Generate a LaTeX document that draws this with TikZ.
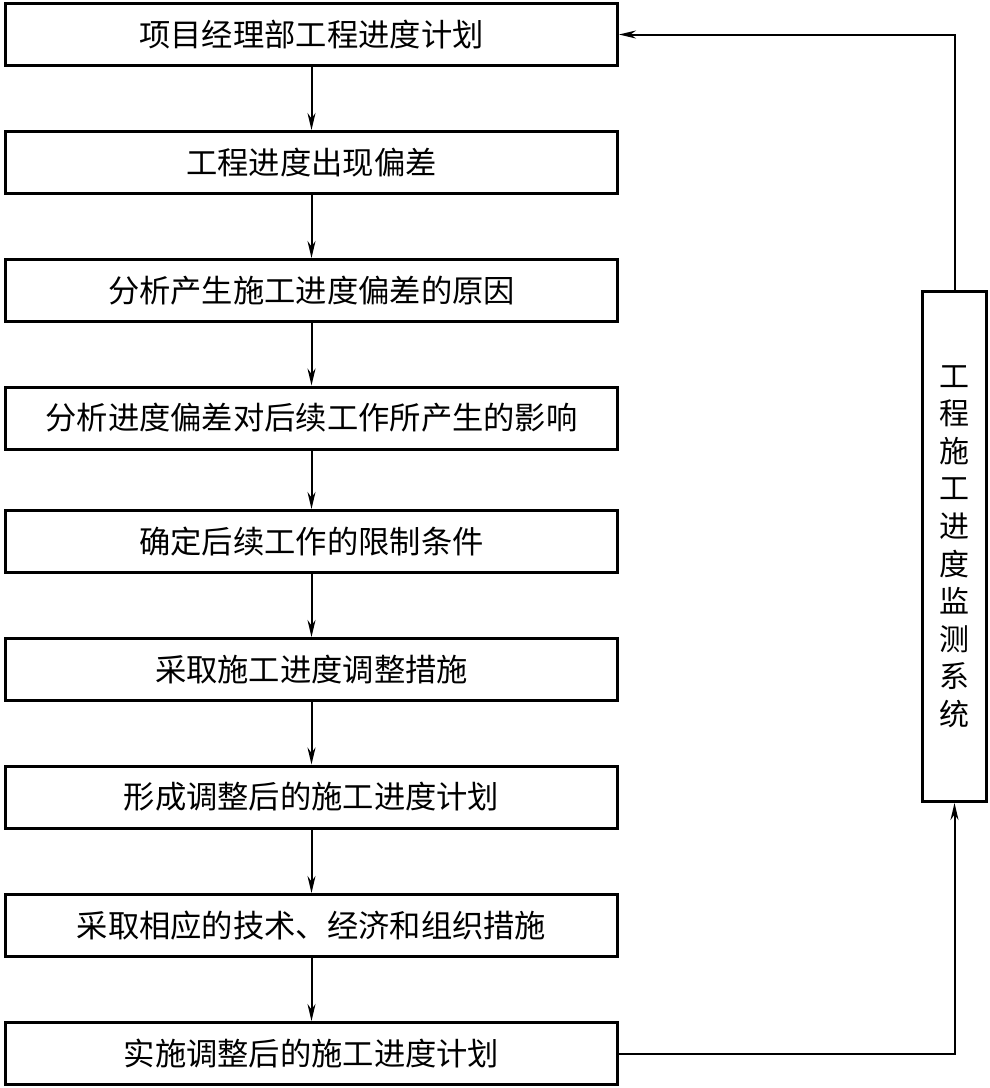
\documentclass[tikz,border=0pt]{standalone}
\usepackage{fontspec}
\setmainfont{Noto Sans CJK SC}
\usetikzlibrary{arrows.meta}
\tikzset{
  stepbox/.style={draw, line width=3pt, minimum width=612pt, minimum height=62pt, inner sep=0pt,
    font=\fontsize{31.3}{36}\selectfont},
  monbox/.style={draw, line width=3pt, minimum width=64pt, minimum height=510pt, inner sep=0pt, align=center,
    font=\fontsize{30}{37.6}\selectfont},
  conn/.style={line width=2pt, -{Stealth[length=17pt,width=8pt]}},
}
\begin{document}
\begin{tikzpicture}[x=1pt,y=-1pt]
\useasboundingbox (0,0) rectangle (989,1088);
\node[stepbox] (b1) at (311.5,34.5) {项目经理部工程进度计划};
\node[stepbox] (b2) at (311.5,162.5) {工程进度出现偏差};
\node[stepbox] (b3) at (311.5,290.5) {分析产生施工进度偏差的原因};
\node[stepbox] (b4) at (311.5,418) {分析进度偏差对后续工作所产生的影响};
\node[stepbox] (b5) at (311.5,541.5) {确定后续工作的限制条件};
\node[stepbox] (b6) at (311.5,669.5) {采取施工进度调整措施};
\node[stepbox] (b7) at (311.5,797) {形成调整后的施工进度计划};
\node[stepbox] (b8) at (311.5,925.5) {采取相应的技术、经济和组织措施};
\node[stepbox] (b9) at (311.5,1053.5) {实施调整后的施工进度计划};
\node[monbox] (mon) at (954.5,546.5) {工\\程\\施\\工\\进\\度\\监\\测\\系\\统};
\foreach \a/\b in {b1/b2,b2/b3,b3/b4,b4/b5,b5/b6,b6/b7,b7/b8,b8/b9}
  \draw[conn] (\a) -- (\b);
\draw[conn] (b9.east) -| (mon.south);
\draw[conn] (mon.north) |- (b1.east);
\end{tikzpicture}
\end{document}
